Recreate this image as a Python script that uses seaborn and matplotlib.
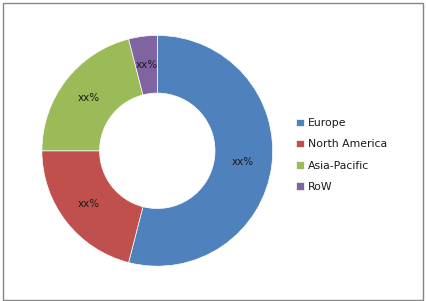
import matplotlib
matplotlib.use("Agg")
import matplotlib.pyplot as plt
import seaborn as sns
import numpy as np
from matplotlib.patches import Rectangle

regions = ["Europe", "North America", "Asia-Pacific", "RoW"]
shares = [54, 21, 21, 4]
labels = ["xx%", "xx%", "xx%", "xx%"]
colors = ["#4F81BD", "#C0504D", "#9BBB59", "#8064A2"]

sns.set_style("white")
plt.rcParams["font.family"] = ["DejaVu Sans"]

fig = plt.figure(figsize=(4.26, 3.01), dpi=100)
fig.patch.set_facecolor("white")

W, H = 426, 301
cx, cy, r = 157.3, 150.8, 115.4
ax = fig.add_axes([(cx - r) / W, (H - cy - r) / H, 2 * r / W, 2 * r / H])

wedges, texts = ax.pie(
    shares,
    colors=colors,
    startangle=90,
    counterclock=False,
    radius=1.0,
    wedgeprops=dict(width=0.5, edgecolor="white", linewidth=0.5),
)
for w, lab in zip(wedges, labels):
    ang = np.deg2rad((w.theta1 + w.theta2) / 2)
    ax.text(0.75 * np.cos(ang), 0.75 * np.sin(ang), lab, ha="center", va="center",
            fontsize=7.5, color="#1a1a1a")
ax.set_xlim(-1, 1)
ax.set_ylim(-1, 1)
ax.set_aspect("equal")
ax.axis("off")

leg = fig.legend(
    wedges, regions,
    loc="center left",
    bbox_to_anchor=(296 / W, 1 - 155 / H),
    frameon=False,
    fontsize=7.8,
    handlelength=0.7,
    handleheight=0.7,
    handletextpad=0.4,
    labelspacing=1.02,
    borderpad=0,
    borderaxespad=0,
)
for t in leg.get_texts():
    t.set_color("#1a1a1a")

fig.patches.append(Rectangle((2.5 / W, 1 - 300 / H), 420.5 / W, 297.5 / H,
                             transform=fig.transFigure, fill=False,
                             edgecolor="#868686", linewidth=1.0))

fig.savefig("out.png", dpi=100, facecolor="white")
